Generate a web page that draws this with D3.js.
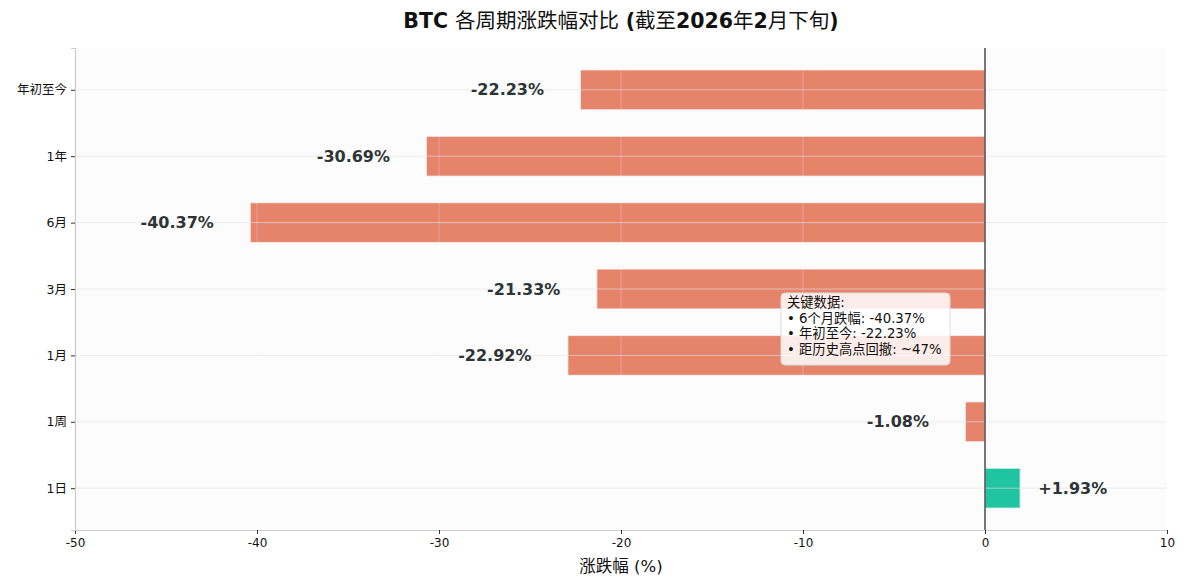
<!DOCTYPE html>
<html>
<head>
<meta charset="utf-8">
<script src="https://cdn.jsdelivr.net/npm/d3@7"></script>
<style>
  body { margin: 0; background: #fff; }
  text { font-family: "DejaVu Sans", "Noto Sans CJK SC", sans-serif; }
</style>
</head>
<body>
<div id="container"></div>
<script>
// data
var periods = ["1日", "1周", "1月", "3月", "6月", "1年", "年初至今"];
var changes = [1.93, -1.08, -22.92, -21.33, -40.37, -30.69, -22.23];
var xTicks = [-50, -40, -30, -20, -10, 0, 10];
var noteLines = ["关键数据:", "• 6个月跌幅: -40.37%", "• 年初至今: -22.23%", "• 距历史高点回撤: ~47%"];

var w = 1187, h = 587;
var margin = { top: 48, right: 20, bottom: 57, left: 75 };

var svg = d3.select("#container").append("svg")
    .attr("width", w)
    .attr("height", h);

var x = d3.scaleLinear().domain([-50, 10]).range([margin.left, w - margin.right]);
// barh height 0.6 plus 5% margins, like matplotlib
var y = d3.scaleLinear().domain([-0.63, 6.63]).range([h - margin.bottom, margin.top]);
var barH = Math.abs(y(0.6) - y(0));

// fondo del area
svg.append("rect")
    .attr("x", x(-50)).attr("y", margin.top)
    .attr("width", x(10) - x(-50)).attr("height", y(-0.63) - margin.top)
    .attr("fill", "#fcfcfc");

// barras
svg.append("g").selectAll("rect")
    .data(changes)
    .enter()
    .append("rect")
    .attr("x", function (d) { return x(Math.min(0, d)); })
    .attr("y", function (d, i) { return y(i) - barH / 2; })
    .attr("width", function (d) { return Math.abs(x(d) - x(0)); })
    .attr("height", barH)
    .attr("fill", function (d) { return d >= 0 ? "#20c4a0" : "#e5836b"; })
    .attr("stroke", "#fff")
    .attr("stroke-opacity", 0.6)
    .attr("stroke-width", 1.2);

// rejilla encima (alpha)
var grid = svg.append("g");
grid.selectAll("line.h")
    .data(periods)
    .enter()
    .append("line")
    .attr("x1", x(-50)).attr("x2", x(10))
    .attr("y1", function (d, i) { return y(i); })
    .attr("y2", function (d, i) { return y(i); })
    .attr("stroke", "#e2e2e2")
    .attr("stroke-opacity", 0.6);
grid.selectAll("line.v")
    .data(xTicks.slice(1, -1))
    .enter()
    .append("line")
    .attr("x1", function (d) { return x(d); })
    .attr("x2", function (d) { return x(d); })
    .attr("y1", margin.top).attr("y2", y(-0.63))
    .attr("stroke", "#fff")
    .attr("stroke-opacity", 0.25);

// linea cero
svg.append("line")
    .attr("x1", x(0)).attr("x2", x(0))
    .attr("y1", margin.top).attr("y2", y(-0.63))
    .attr("stroke", "#555")
    .attr("stroke-width", 1.6);

// etiquetas de valor
svg.append("g").selectAll("text")
    .data(changes)
    .enter()
    .append("text")
    .attr("x", function (d) { return d >= 0 ? x(d + 1) : x(d - 2); })
    .attr("y", function (d, i) { return y(i); })
    .attr("dy", "0.35em")
    .attr("text-anchor", function (d) { return d >= 0 ? "start" : "end"; })
    .attr("font-size", 16)
    .attr("font-weight", "bold")
    .attr("fill", "#2d3436")
    .text(function (d) { return (d >= 0 ? "+" : "") + d.toFixed(2) + "%"; });

// ejes
var xAxis = d3.axisBottom(x).tickValues(xTicks).tickSize(4).tickPadding(4);
var gx = svg.append("g")
    .attr("transform", "translate(0," + y(-0.63) + ")")
    .call(xAxis);
gx.select(".domain").attr("stroke", "#ccc").attr("stroke-width", 1.2);
gx.selectAll(".tick line").attr("stroke", "#333");
gx.selectAll(".tick text").attr("font-size", 12).attr("fill", "#111")
    .text(function (d) { return d; });

var yAxis = d3.axisLeft(y).tickValues(d3.range(periods.length))
    .tickFormat(function (i) { return periods[i]; }).tickSize(4).tickPadding(4);
var gy = svg.append("g")
    .attr("transform", "translate(" + x(-50) + ",0)")
    .call(yAxis);
gy.select(".domain").attr("stroke", "#ccc").attr("stroke-width", 1.2);
gy.selectAll(".tick line").attr("stroke", "#333");
gy.selectAll(".tick text").attr("font-size", 12.5).attr("fill", "#111");

// titulo de eje x
svg.append("text")
    .attr("x", (x(-50) + x(10)) / 2)
    .attr("y", 572)
    .attr("text-anchor", "middle")
    .attr("font-size", 16.5)
    .attr("fill", "#111")
    .text("涨跌幅 (%)");

// titulo (latin en negrita, CJK normal)
var title = svg.append("text")
    .attr("x", 621)
    .attr("y", 28)
    .attr("text-anchor", "middle")
    .attr("font-size", 20.5)
    .attr("fill", "#111");
[["BTC ", true], ["各周期涨跌幅对比 ", false], ["(", true], ["截至", false], ["2026", true],
 ["年", false], ["2", true], ["月下旬", false], [")", true]].forEach(function (p) {
    title.append("tspan")
        .attr("font-weight", p[1] ? "bold" : "normal")
        .text(p[0]);
});

// cuadro de notas
var note = svg.append("g").attr("transform", "translate(781,293)");
note.append("rect")
    .attr("width", 169).attr("height", 72)
    .attr("rx", 4)
    .attr("fill", "#fff").attr("fill-opacity", 0.85)
    .attr("stroke", "#ddd");
note.selectAll("text")
    .data(noteLines)
    .enter()
    .append("text")
    .attr("x", 6)
    .attr("y", function (d, i) { return 14 + i * 15.5; })
    .attr("font-size", 13.3)
    .attr("fill", "#111")
    .text(function (d) { return d; });
</script>
</body>
</html>
